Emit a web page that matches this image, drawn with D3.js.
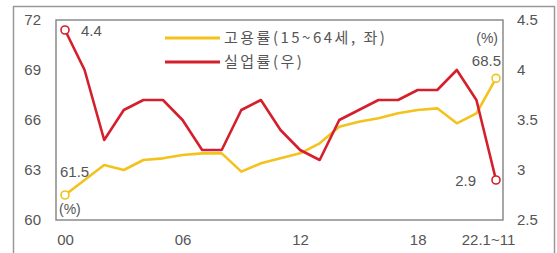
<!DOCTYPE html>
<html>
<head>
<meta charset="utf-8">
<script src="https://cdn.jsdelivr.net/npm/d3@7"></script>
<style>
  body { margin: 0; background: #fff; }
  text { font-family: "Liberation Sans", Arial, sans-serif; fill: #555; }
</style>
</head>
<body>
<div id="chart"></div>
<script>
// ---- data -------------------------------
var years = ["00","01","02","03","04","05","06","07","08","09","10","11",
             "12","13","14","15","16","17","18","19","20","21","22.1~11"];
var employment = [61.5, 62.4, 63.3, 63.0, 63.6, 63.7, 63.9, 64.0, 64.0, 62.9, 63.4, 63.7,
                  64.0, 64.6, 65.6, 65.9, 66.1, 66.4, 66.6, 66.7, 65.8, 66.4, 68.5];
var unemployment = [4.4, 4.0, 3.3, 3.6, 3.7, 3.7, 3.5, 3.2, 3.2, 3.6, 3.7, 3.4,
                    3.2, 3.1, 3.5, 3.6, 3.7, 3.7, 3.8, 3.8, 4.0, 3.7, 2.9];
var leftTicks = [60, 63, 66, 69, 72];
var rightTicks = [2.5, 3, 3.5, 4, 4.5];
var xTicks = ["00", "06", "12", "18", "22.1~11"];

var W = 557, H = 253;
var plot = {left: 56, right: 503, top: 20, bottom: 220};

var svg = d3.select("#chart").append("svg")
    .attr("width", W)
    .attr("height", H);

// outer frame
svg.append("rect")
    .attr("x", 13.5).attr("y", 6.5)
    .attr("width", 541).attr("height", 260)
    .attr("fill", "none")
    .attr("stroke", "#999")
    .attr("stroke-width", 1.5);

// ---- scales -----------------------------
var x = d3.scalePoint().domain(years).range([65, 496]);
var yL = d3.scaleLinear().domain([60, 72]).range([plot.bottom, plot.top]);
var yR = d3.scaleLinear().domain([2.5, 4.5]).range([plot.bottom, plot.top]);

// plot box
svg.append("rect")
    .attr("x", plot.left).attr("y", plot.top)
    .attr("width", plot.right - plot.left)
    .attr("height", plot.bottom - plot.top)
    .attr("fill", "none")
    .attr("stroke", "#8a8a8a")
    .attr("stroke-width", 1.5);

// ---- axes -------------------------------
var axL = svg.append("g")
    .attr("transform", "translate(" + plot.left + ",0)")
    .call(d3.axisLeft(yL).tickValues(leftTicks).tickSize(0).tickPadding(15));
var axR = svg.append("g")
    .attr("transform", "translate(" + plot.right + ",0)")
    .call(d3.axisRight(yR).tickValues(rightTicks).tickSize(0).tickPadding(14)
          .tickFormat(d3.format("")));
var axB = svg.append("g")
    .attr("transform", "translate(0," + plot.bottom + ")")
    .call(d3.axisBottom(x).tickValues(xTicks).tickSize(0).tickPadding(14));
axB.selectAll(".tick text").filter(d => d == "22.1~11").attr("dx", -8);

[axL, axR, axB].forEach(a => {
    a.select(".domain").remove();
    a.selectAll("text")
        .style("font-family", "'Liberation Sans', Arial, sans-serif")
        .style("font-size", "15px")
        .style("fill", "#555");
});

// ---- lines ------------------------------
var lineL = d3.line().x((d, i) => x(years[i])).y(d => yL(d));
var lineR = d3.line().x((d, i) => x(years[i])).y(d => yR(d));

svg.append("path")
    .datum(employment)
    .attr("d", lineL)
    .attr("fill", "none")
    .attr("stroke", "#f3c21c")
    .attr("stroke-width", 2.6)
    .attr("stroke-linejoin", "round");

svg.append("path")
    .datum(unemployment)
    .attr("d", lineR)
    .attr("fill", "none")
    .attr("stroke", "#d41f2c")
    .attr("stroke-width", 2.6)
    .attr("stroke-linejoin", "round");

// end markers
var last = years.length - 1;
[[0, employment, yL, "#f3c21c"], [last, employment, yL, "#f3c21c"],
 [0, unemployment, yR, "#d41f2c"], [last, unemployment, yR, "#d41f2c"]].forEach(m => {
    svg.append("circle")
        .attr("cx", x(years[m[0]]))
        .attr("cy", m[2](m[1][m[0]]))
        .attr("r", 4)
        .attr("fill", "#fff")
        .attr("stroke", m[3])
        .attr("stroke-width", 1.6);
});

// value labels
var lab = [
    {t: unemployment[0].toFixed(1), x: x(years[0]) + 16, y: yR(unemployment[0]) + 6, a: "start"},
    {t: unemployment[last].toFixed(1), x: x(years[last]) - 20, y: yR(unemployment[last]) + 6, a: "end"},
    {t: employment[0].toFixed(1), x: x(years[0]) - 5, y: 177, a: "start"},
    {t: employment[last].toFixed(1), x: x(years[last]) + 5, y: yL(employment[last]) - 12, a: "end"}
];
svg.selectAll(".vlab").data(lab).enter().append("text")
    .attr("class", "vlab")
    .attr("x", d => d.x).attr("y", d => d.y)
    .attr("text-anchor", d => d.a)
    .style("font-size", "15px")
    .text(d => d.t);

// unit labels
svg.append("text").attr("x", 59).attr("y", 214).style("font-size", "14px").text("(%)");
svg.append("text").attr("x", 498).attr("y", 43).attr("text-anchor", "end")
    .style("font-size", "14px").text("(%)");

// ---- legend -----------------------------
var legend = [
    {name: "고용률(15~64세, 좌)", color: "#f3c21c"},
    {name: "실업률(우)", color: "#d41f2c"}
];
var lg = svg.selectAll(".lg").data(legend).enter().append("g")
    .attr("class", "lg")
    .attr("transform", (d, i) => "translate(165," + (38 + i * 24) + ")");
lg.append("line")
    .attr("x1", 0).attr("x2", 55)
    .attr("stroke", d => d.color)
    .attr("stroke-width", 3);
lg.append("text")
    .attr("x", 59).attr("y", 5)
    .style("font-family", "'Noto Sans CJK KR', sans-serif")
    .style("font-size", "15px")
    .style("letter-spacing", "2.5px")
    .text(d => d.name);
</script>
</body>
</html>
